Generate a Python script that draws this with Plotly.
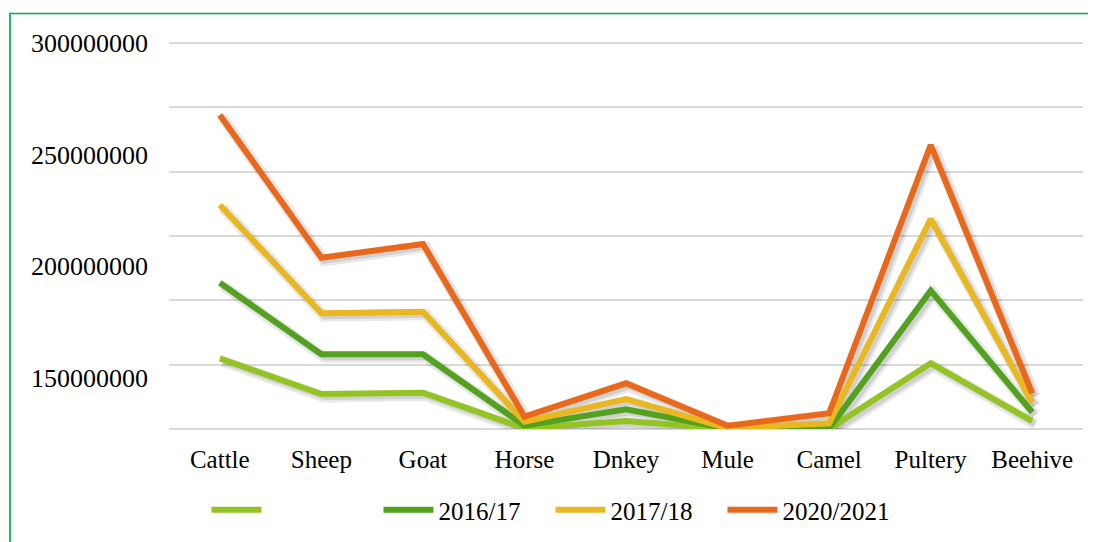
import plotly.graph_objects as go

categories = ["Cattle", "Sheep", "Goat", "Horse", "Dnkey", "Mule", "Camel", "Pultery", "Beehive"]
series_names = [" ", "2016/17", "2017/18", "2020/2021"]
s_base = [54.9e6, 27.2e6, 28.2e6, 0.5e6, 6.2e6, 0.1e6, 0.1e6, 51.1e6, 6.2e6]
s_2016 = [113.7e6, 58.1e6, 58.1e6, 2.6e6, 15.3e6, 0.3e6, 0.4e6, 107.5e6, 13.0e6]
s_2017 = [174.1e6, 89.9e6, 91.2e6, 5.7e6, 23.3e6, 0.6e6, 4.4e6, 163.2e6, 20.4e6]
s_2020 = [244.0e6, 133.1e6, 143.8e6, 9.6e6, 35.5e6, 2.6e6, 12.2e6, 220.7e6, 27.7e6]
tick_vals = [150e6, 200e6, 250e6, 300e6]
tick_text = ["150000000", "200000000", "250000000", "300000000"]

colors = ["#93C424", "#52A11F", "#E9B821", "#E8691B"]
series = [s_base, s_2016, s_2017, s_2020]

FONT = "Liberation Serif"
fig = go.Figure()

# soft shadows (main subplot, slightly shifted axes)
for vals in series:
    fig.add_trace(go.Scatter(x=categories, y=vals, mode="lines", xaxis="x", yaxis="y",
                             line=dict(color="rgba(0,0,0,0.09)", width=11),
                             showlegend=False, hoverinfo="skip"))
for vals in series:
    fig.add_trace(go.Scatter(x=categories, y=vals, mode="lines", xaxis="x", yaxis="y",
                             line=dict(color="rgba(0,0,0,0.10)", width=6),
                             showlegend=False, hoverinfo="skip"))

for name, vals, c in zip(series_names, series, colors):
    fig.add_trace(go.Scatter(x=categories, y=vals, mode="lines", name=name,
                             xaxis="x2", yaxis="y2",
                             line=dict(color=c, width=6)))

# carrier for label axis
fig.add_trace(go.Scatter(x=categories[:1], y=[200e6], mode="lines", xaxis="x2", yaxis="y3",
                         showlegend=False, hoverinfo="skip", opacity=0))

W, H = 1088, 534
L, R, T, B = 161, 13, 31, 113
PW, PH = W - L - R, H - T - B          # 914 x 390
px_x = 9 / PW
px_y = 300e6 / 386.0
top = px_y * PH                          # 300M sits 4px below the top edge
lab_px = 150e6 / 335.0
fig.update_layout(
    width=W, height=H,
    paper_bgcolor="white", plot_bgcolor="white",
    margin=dict(l=L, r=R, t=T, b=B, autoexpand=False),
    font=dict(family=FONT, size=24, color="black"),
    xaxis=dict(type="category", range=[-0.5 - 3 * px_x, 8.5 - 3 * px_x], visible=False),
    yaxis=dict(range=[0 + 3 * px_y, top + 3 * px_y], visible=False),
    xaxis2=dict(type="category", range=[-0.5, 8.5], overlaying="x", showgrid=False,
                showline=False, zeroline=False, ticks="", ticklabelstandoff=13,
                tickfont=dict(family=FONT, size=25, color="black")),
    yaxis2=dict(range=[0, top], overlaying="y", dtick=50e6, showgrid=True,
                gridcolor="#D9D9D9", gridwidth=1.5, zeroline=True, zerolinecolor="#D9D9D9",
                zerolinewidth=1.5, showticklabels=False, ticks=""),
    yaxis3=dict(range=[150e6 - 51 * lab_px, 300e6 + 4 * lab_px], overlaying="y",
                tickvals=tick_vals, ticktext=tick_text,
                showgrid=False, zeroline=False, showline=False, ticks="", ticklabelstandoff=20,
                tickfont=dict(family=FONT, size=26, color="black")),
    legend=dict(orientation="h", x=0.041, xanchor="left", y=-81 / PH, yanchor="middle",
                font=dict(family=FONT, size=25, color="black"),
                entrywidth=107, entrywidthmode="pixels", itemwidth=50,
                bgcolor="rgba(0,0,0,0)"),
    shapes=[dict(type="rect", xref="paper", yref="paper",
                 x0=(2 - L) / PW, x1=(1085 - L) / PW,
                 y0=-0.6, y1=(T + PH - 5.5) / PH,
                 line=dict(color="#00B050", width=1.7), fillcolor="rgba(0,0,0,0)", layer="below")],
)

fig.write_html("out.html")
